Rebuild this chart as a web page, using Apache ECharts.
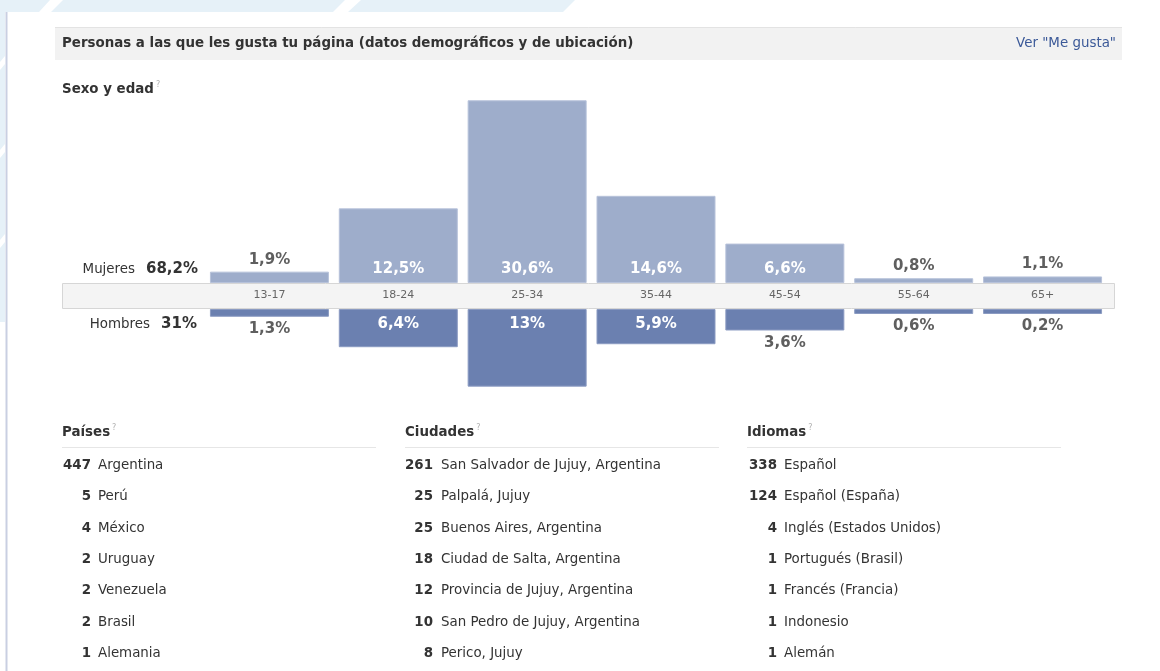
<!DOCTYPE html>
<html>
<head>
<meta charset="utf-8">
<title>Personas a las que les gusta tu página</title>
<script src="https://cdn.jsdelivr.net/npm/echarts@6/dist/echarts.min.js"></script>
<style>
  html, body { margin: 0; padding: 0; background: #fff; }
  #chart { width: 1160px; height: 671px; }
</style>
</head>
<body>
<div id="chart"></div>
<script>
  // age groups and share of fans (%)
  var ageGroups = ['13-17', '18-24', '25-34', '35-44', '45-54', '55-64', '65+'];
  var mujeres = [1.9, 12.5, 30.6, 14.6, 6.6, 0.8, 1.1];
  var hombres = [1.3, 6.4, 13, 5.9, 3.6, 0.6, 0.2];
  var totalMujeres = '68,2%';
  var totalHombres = '31%';

  var paisesCount = [447, 5, 4, 2, 2, 2, 1];
  var paisesName = ['Argentina', 'Perú', 'México', 'Uruguay', 'Venezuela', 'Brasil', 'Alemania'];
  var ciudadesCount = [261, 25, 25, 18, 12, 10, 8];
  var ciudadesName = ['San Salvador de Jujuy, Argentina', 'Palpalá, Jujuy', 'Buenos Aires, Argentina',
    'Ciudad de Salta, Argentina', 'Provincia de Jujuy, Argentina', 'San Pedro de Jujuy, Argentina', 'Perico, Jujuy'];
  var idiomasCount = [338, 124, 4, 1, 1, 1, 1];
  var idiomasName = ['Español', 'Español (España)', 'Inglés (Estados Unidos)', 'Portugués (Brasil)',
    'Francés (Francia)', 'Indonesio', 'Alemán'];

  var FONT = '"DejaVu Sans", Verdana, sans-serif';
  var SIZE = 13.4;
  var INSIDE_MIN = 5; // bars at least this big get the label inside

  function pct(v) {
    return String(v).replace('.', ',') + '%';
  }

  function barData(values, top) {
    return values.map(function(v) {
      var inside = v >= INSIDE_MIN;
      return {
        value: v,
        label: {
          position: inside ? (top ? 'insideBottom' : 'insideTop') : (top ? 'top' : 'bottom'),
          distance: inside ? (top ? 6.5 : 7.5) : (top ? 4.5 : 5),
          color: inside ? '#ffffff' : '#5f5f5f'
        }
      };
    });
  }

  function txt(x, y, text, opts) {
    opts = opts || {};
    return {
      type: 'text',
      z: 10,
      style: {
        x: x,
        y: y,
        text: text,
        font: (opts.bold ? 'bold ' : '') + (opts.size || SIZE) + 'px ' + FONT,
        fill: opts.color || '#333333',
        align: opts.align || 'left',
        textAlign: opts.align || 'left',
        verticalAlign: 'middle',
        textVerticalAlign: 'middle'
      }
    };
  }

  function header(x, y, label) {
    return {
      type: 'text',
      z: 10,
      style: {
        x: x,
        y: y,
        text: '{h|' + label + '}{q|?}',
        verticalAlign: 'middle',
        textVerticalAlign: 'middle',
        rich: {
          h: { fontFamily: FONT, fontSize: SIZE, fontWeight: 'bold', fill: '#333333', color: '#333333', lineHeight: 18 },
          q: { fontFamily: FONT, fontSize: 8, fill: '#b0b0b0', color: '#b0b0b0', verticalAlign: 'top', padding: [0, 0, 0, 2], lineHeight: 10 }
        }
      }
    };
  }

  var graphics = [];

  // light blue background stripes behind the panel
  graphics.push({ type: 'polygon', z: 0, shape: { points: [[0, 0], [575, 0], [563, 12], [0, 12]] }, style: { fill: '#e6f1f8' } });
  graphics.push({ type: 'polygon', z: 0, shape: { points: [[50, 0], [63, 0], [51, 12], [39, 12]] }, style: { fill: '#ffffff' } });
  graphics.push({ type: 'polygon', z: 0, shape: { points: [[345, 0], [361, 0], [348, 12], [333, 12]] }, style: { fill: '#ffffff' } });
  graphics.push({ type: 'rect', z: 0, shape: { x: 0, y: 12, width: 5, height: 310 }, style: { fill: '#e6f1f8' } });
  [62, 150, 240].forEach(function(y) {
    graphics.push({ type: 'polygon', z: 0, shape: { points: [[0, y], [5, y - 6], [5, y + 2], [0, y + 8]] }, style: { fill: '#ffffff' } });
  });
  graphics.push({ type: 'line', z: 1, shape: { x1: 6.5, y1: 12, x2: 6.5, y2: 671 }, style: { stroke: '#c9cfe2', lineWidth: 2 } });

  // title bar
  graphics.push({ type: 'rect', z: 1, shape: { x: 55, y: 27, width: 1067, height: 33 }, style: { fill: '#f2f2f2' } });
  graphics.push({ type: 'line', z: 1, shape: { x1: 55, y1: 27.5, x2: 1122, y2: 27.5 }, style: { stroke: '#e3e3e3', lineWidth: 1 } });
  graphics.push(txt(62, 44, 'Personas a las que les gusta tu página (datos demográficos y de ubicación)', { bold: true }));
  graphics.push(txt(1116, 44, 'Ver "Me gusta"', { color: '#3b5998', align: 'right' }));

  graphics.push(header(62, 89.5, 'Sexo y edad'));

  // band holding the age labels
  graphics.push({ type: 'rect', z: 1, shape: { x: 62.5, y: 283.5, width: 1052, height: 25 }, style: { fill: '#f4f4f4', stroke: '#d6d6d6', lineWidth: 1 } });

  graphics.push(txt(135, 269.5, 'Mujeres', { align: 'right' }));
  graphics.push(txt(198, 269, totalMujeres, { bold: true, size: 15, align: 'right' }));
  graphics.push(txt(150, 324.5, 'Hombres', { align: 'right' }));
  graphics.push(txt(197, 324, totalHombres, { bold: true, size: 15, align: 'right' }));

  // lists
  var cols = [
    { x: 62, numRight: 91, nameX: 98, title: 'Países', counts: paisesCount, names: paisesName },
    { x: 405, numRight: 433, nameX: 441, title: 'Ciudades', counts: ciudadesCount, names: ciudadesName },
    { x: 747, numRight: 777, nameX: 784, title: 'Idiomas', counts: idiomasCount, names: idiomasName }
  ];
  cols.forEach(function(c) {
    graphics.push(header(c.x, 432.5, c.title));
    graphics.push({ type: 'line', z: 1, shape: { x1: c.x, y1: 447.5, x2: c.x + 314, y2: 447.5 }, style: { stroke: '#e6e6e6', lineWidth: 1 } });
    c.counts.forEach(function(n, i) {
      var y = 465.5 + i * 31.33;
      graphics.push(txt(c.numRight, y, String(n), { bold: true, align: 'right' }));
      graphics.push(txt(c.nameX, y, c.names[i]));
    });
  });

  var chart = echarts.init(document.getElementById('chart'));
  chart.setOption({
    animation: false,
    backgroundColor: '#ffffff',
    textStyle: { fontFamily: FONT },
    graphic: graphics,
    grid: [
      { left: 205, width: 902, top: 74, height: 209 },
      { left: 205, width: 902, top: 309, height: 209 }
    ],
    xAxis: [
      {
        type: 'category', gridIndex: 0, data: ageGroups, z: 5,
        axisLine: { show: false }, axisTick: { show: false },
        axisLabel: { margin: 7, fontSize: 11, color: '#666666', fontFamily: FONT }
      },
      {
        type: 'category', gridIndex: 1, data: ageGroups, show: false
      }
    ],
    yAxis: [
      { type: 'value', gridIndex: 0, min: 0, max: 35, show: false },
      { type: 'value', gridIndex: 1, min: 0, max: 35, inverse: true, show: false }
    ],
    series: [
      {
        name: 'Mujeres', type: 'bar', xAxisIndex: 0, yAxisIndex: 0, barWidth: 119,
        data: barData(mujeres, true),
        itemStyle: { color: '#9eadcb', borderColor: '#b7c2da', borderWidth: 1 },
        label: { show: true, fontSize: 15, fontWeight: 'bold', fontFamily: FONT, formatter: function(p) { return pct(p.value); } }
      },
      {
        name: 'Hombres', type: 'bar', xAxisIndex: 1, yAxisIndex: 1, barWidth: 119, barMinHeight: 5,
        data: barData(hombres, false),
        itemStyle: { color: '#6b80b0', borderColor: '#8b9bc2', borderWidth: 1 },
        label: { show: true, fontSize: 15, fontWeight: 'bold', fontFamily: FONT, formatter: function(p) { return pct(p.value); } }
      }
    ]
  });
</script>
</body>
</html>
